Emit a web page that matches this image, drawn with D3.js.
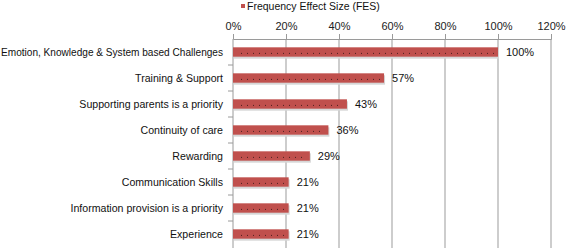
<!DOCTYPE html>
<html>
<head>
<meta charset="utf-8">
<script src="https://cdn.jsdelivr.net/npm/d3@7"></script>
<style>
  body { margin: 0; background: #fff; }
  svg { font-family: "Liberation Sans", Arial, sans-serif; }
</style>
</head>
<body>
<div id="chart"></div>
<script>
// chart data
const categories = [
    "Emotion, Knowledge & System based Challenges",
    "Training & Support",
    "Supporting parents is a priority",
    "Continuity of care",
    "Rewarding",
    "Communication Skills",
    "Information provision is a priority",
    "Experience"
];
const fesValues = [100, 57, 43, 36, 29, 21, 21, 21];
const xTicks = [0, 20, 40, 60, 80, 100, 120];
const legendLabel = "Frequency Effect Size (FES)";

const width = 566, height = 248;
const margin = { top: 39, right: 15, bottom: 1, left: 233 };
const barColor = "#c0504d";

const svg = d3.select("#chart").append("svg")
    .attr("width", width)
    .attr("height", height);

const x = d3.scaleLinear().domain([0, 120]).range([margin.left, width - margin.right]);
const y = d3.scaleBand().domain(categories)
    .range([margin.top, height - margin.bottom])
    .paddingInner(0.64).paddingOuter(0.32);
const gap = (y.step() - y.bandwidth()) / 2;

// vertical grid lines
svg.append("g").selectAll("line")
    .data(xTicks.slice(1))
    .join("line")
    .attr("x1", d => x(d)).attr("x2", d => x(d))
    .attr("y1", margin.top).attr("y2", height)
    .attr("stroke", "#bdbdbd")
    .attr("stroke-width", 1.5);

// top axis
const xAxis = svg.append("g")
    .attr("transform", `translate(0,${margin.top})`)
    .call(d3.axisTop(x).tickValues(xTicks).tickFormat(d => d + "%").tickSize(5).tickPadding(4));
xAxis.select(".domain").attr("stroke", "#9a9a9a");
xAxis.selectAll(".tick line").attr("stroke", "#9a9a9a");
xAxis.selectAll("text").attr("font-size", 11).attr("fill", "#222").attr("font-family", "Liberation Sans, Arial");

// left axis line with ticks between categories
svg.append("line")
    .attr("x1", margin.left).attr("x2", margin.left)
    .attr("y1", margin.top).attr("y2", height)
    .attr("stroke", "#9a9a9a");
svg.append("g").selectAll("line")
    .data(categories.slice(1))
    .join("line")
    .attr("x1", margin.left - 5).attr("x2", margin.left)
    .attr("y1", d => y(d) - gap)
    .attr("y2", d => y(d) - gap)
    .attr("stroke", "#9a9a9a");

// category labels (squeeze the long one so it fits the left margin)
svg.append("g").selectAll("text")
    .data(categories)
    .join("text")
    .attr("x", margin.left - 10)
    .attr("y", d => y(d) + y.bandwidth() / 2)
    .attr("dy", "0.35em")
    .attr("text-anchor", "end")
    .attr("font-size", 10.6)
    .attr("fill", "#111")
    .text(d => d)
    .each(function() {
        const maxW = margin.left - 11;
        if (this.getComputedTextLength() > maxW) {
            d3.select(this).attr("textLength", maxW).attr("lengthAdjust", "spacingAndGlyphs");
        }
    });

// bars
const rows = categories.map((c, i) => ({ c, v: fesValues[i] }));

svg.append("g").selectAll("rect")
    .data(rows)
    .join("rect")
    .attr("x", x(0) + 1)
    .attr("y", d => y(d.c) + 2)
    .attr("width", d => x(d.v) - x(0))
    .attr("height", y.bandwidth())
    .attr("fill", "#d6d6d6");

svg.append("g").selectAll("rect")
    .data(rows)
    .join("rect")
    .attr("x", x(0))
    .attr("y", d => y(d.c))
    .attr("width", d => x(d.v) - x(0))
    .attr("height", y.bandwidth())
    .attr("fill", barColor);

// dotted texture inside bars
svg.append("g").selectAll("line")
    .data(rows)
    .join("line")
    .attr("x1", x(0) + 8)
    .attr("x2", d => x(d.v) - 4)
    .attr("y1", d => y(d.c) + y.bandwidth() * 0.65)
    .attr("y2", d => y(d.c) + y.bandwidth() * 0.65)
    .attr("stroke", "#4a2020")
    .attr("stroke-width", 1)
    .attr("stroke-dasharray", "1,5");

// value labels
svg.append("g").selectAll("text")
    .data(rows)
    .join("text")
    .attr("x", d => x(d.v) + 8)
    .attr("y", d => y(d.c) + y.bandwidth() / 2)
    .attr("dy", "0.35em")
    .attr("font-size", 11)
    .attr("fill", "#111")
    .text(d => d.v + "%");

// legend
const legend = svg.append("g").attr("transform", "translate(241,4)");
legend.append("rect").attr("width", 4).attr("height", 4).attr("fill", barColor);
legend.append("text")
    .attr("x", 6).attr("y", 2)
    .attr("dy", "0.35em")
    .attr("font-size", 10.5)
    .attr("fill", "#111")
    .text(legendLabel);
</script>
</body>
</html>
